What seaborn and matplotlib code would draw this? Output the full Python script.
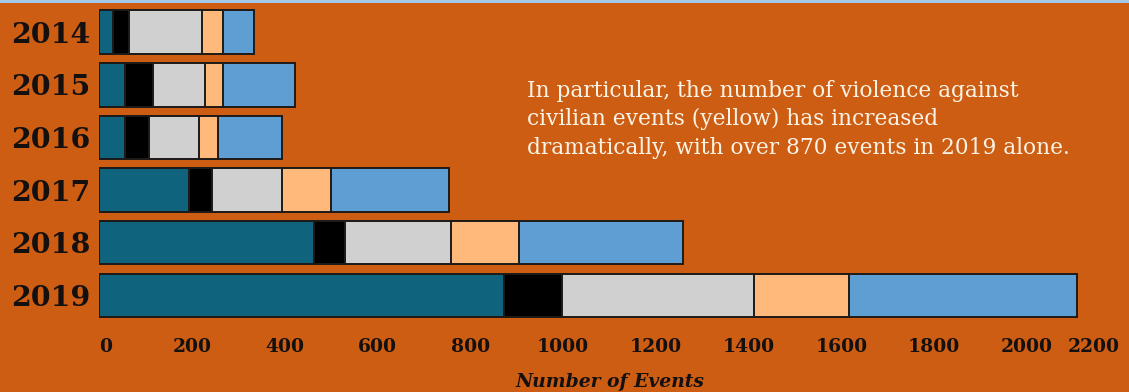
import matplotlib
matplotlib.use("Agg")
import matplotlib.pyplot as plt
import seaborn as sns
import pandas as pd
import numpy as np
from matplotlib.patches import Rectangle

# Event counts per year, one list per event type (stack order, left to right)
years = ["2014", "2015", "2016", "2017", "2018", "2019"]
violence_against_civilians = [29, 56, 56, 193, 463, 873]
explosions_remote_violence = [35, 60, 51, 51, 66, 125]
battles = [157, 111, 108, 150, 229, 414]
riots = [45, 40, 42, 106, 146, 205]
protests = [67, 155, 137, 254, 355, 490]

series_names = ["Violence against civilians", "Explosions/Remote violence",
                "Battles", "Riots", "Protests"]
series_values = [violence_against_civilians, explosions_remote_violence,
                 battles, riots, protests]
series_colors = ["#10637C", "#000000", "#D0D0D0", "#FFB97A", "#5F9ED3"]

x_ticks = [0, 200, 400, 600, 800, 1000, 1200, 1400, 1600, 1800, 2000, 2200]

note_lines = [
    "In particular, the number of violence against",
    "civilian events (yellow) has increased",
    "dramatically, with over 870 events in 2019 alone.",
]

BG = "#CD5D12"
INK = "#141010"

sns.set_theme(style="white")
plt.rcParams["font.family"] = ["DejaVu Serif"]

W, H = 1129, 392
fig = plt.figure(figsize=(W / 100, H / 100), dpi=100, facecolor=BG)

# axes placement in pixels
ax_left, ax_right = 99.2, 1119.8
ax_top, ax_bottom = 5.9, 321.6
ax = fig.add_axes([ax_left / W, 1 - ax_bottom / H,
                   (ax_right - ax_left) / W, (ax_bottom - ax_top) / H])
ax.set_facecolor(BG)

# stacked bars: draw cumulative totals from the widest down
cum = np.cumsum(np.array(series_values), axis=0)
for i in range(len(series_names) - 1, -1, -1):
    sns.barplot(x=cum[i], y=years, order=years, orient="h", ax=ax,
                color=series_colors[i], saturation=1, width=0.827,
                edgecolor="#1E1A18", linewidth=1.4)

ax.set_xlim(0, 2200)
ax.set_ylim(5.5, -0.5)
for s in ax.spines.values():
    s.set_visible(False)

ax.set_xticks(x_ticks)
ax.set_xticklabels([str(t) for t in x_ticks], fontsize=13.5,
                   fontweight="bold", color=INK)
xl = ax.get_xticklabels()
xl[0].set_horizontalalignment("left")
xl[-1].set_horizontalalignment("right")
ax.tick_params(axis="x", length=0, pad=12)
ax.tick_params(axis="y", length=0, pad=6)
for lab in ax.get_yticklabels():
    lab.set_fontsize(20.5)
    lab.set_fontweight("bold")
    lab.set_color(INK)

ax.set_ylabel("")
ax.set_xlabel("Number of Events", fontsize=13.5, fontweight="bold",
              fontstyle="italic", color=INK, labelpad=12)

# narrative note
for k, line in enumerate(note_lines):
    fig.text(527 / W, 1 - (97 + 28.5 * k) / H, line, fontsize=15.6,
             color="#FBF3E6", ha="left", va="baseline")

# thin light band along the top edge
fig.patches.append(Rectangle((0, 1 - 3 / H), 1, 3 / H, transform=fig.transFigure,
                             facecolor="#A6C8E8", edgecolor="none"))

fig.savefig("out.png", dpi=100, facecolor=BG)
